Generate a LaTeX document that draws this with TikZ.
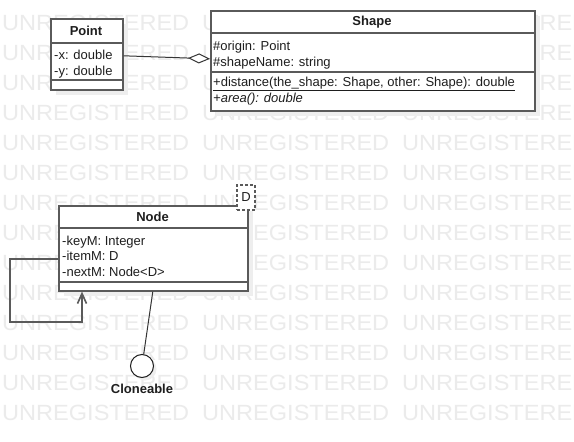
\documentclass[tikz,border=0pt]{standalone}
\usepackage{fontspec}
\setmainfont{Liberation Sans}
\usetikzlibrary{arrows.meta,shadows}
\definecolor{wm}{HTML}{EBEBEB}
\definecolor{bord}{HTML}{5A5A5A}
\definecolor{shad}{HTML}{EEEEEE}
\definecolor{ink}{HTML}{1E1E1E}
\begin{document}
\begin{tikzpicture}[x=1pt,y=-1pt,
  wmtext/.style={anchor=base west,inner sep=0pt,text=wm,font=\fontsize{22}{22}\selectfont,xscale=1.07},
  umlbox/.style={draw=bord,line width=1.6pt,fill=white,anchor=north west,inner sep=0pt,
     drop shadow={shadow xshift=5pt,shadow yshift=-5pt,fill=shad,opacity=1}},
  sep/.style={draw=bord,line width=1.6pt},
  ctitle/.style={font=\fontsize{13}{13}\selectfont\bfseries,text=ink,inner sep=0pt},
  attr/.style={font=\fontsize{13}{13}\selectfont,text=ink,anchor=base west,inner sep=0pt},
  conn/.style={draw=ink!90,line width=1pt},
  iface/.style={circle,draw=ink,line width=1pt,fill=white,minimum size=23pt,inner sep=0pt,
     drop shadow={shadow xshift=3pt,shadow yshift=-3pt,fill=shad,opacity=1}},
  tparambox/.style={draw=bord,dashed,dash pattern=on 3pt off 2pt,line width=1.3pt,fill=white,
     minimum width=18pt,minimum height=25pt,inner sep=0pt,font=\fontsize{13}{13}\selectfont,text=ink}
]
\useasboundingbox (0,0) rectangle (574,442);
\fill[white] (0,0) rectangle (574,442);
% watermark
\foreach \r in {1,...,14}{
  \foreach \c in {0,1,2}{
    \node[wmtext] (wm-\r-\c) at (2+200*\c,30*\r) {UNREGISTERED};
  }
}
% Point class
\node[umlbox,minimum width=72pt,minimum height=71pt] (point) at (50,18) {};
\draw[sep] (50,43) -- (122,43);
\draw[sep] (50,80) -- (122,80);
\node[ctitle] (point-t) at (86,30.5) {Point};
\node[attr] (point-x) at (54,59) {-x: double};
\node[attr] (point-y) at (54,75) {-y: double};
% Shape class
\node[umlbox,minimum width=324pt,minimum height=100pt] (shape) at (210,10) {};
\draw[sep] (210,33) -- (534,33);
\draw[sep] (210,72) -- (534,72);
\node[ctitle] (shape-t) at (372,22) {Shape};
\node[attr] (shape-o) at (213,50) {\#origin: Point};
\node[attr] (shape-n) at (213,66) {\#shapeName: string};
\node[attr] (shape-d) at (213,86) {\underline{+distance(the\_shape: Shape, other: Shape): double}};
\node[attr] (shape-a) at (213,102) {\itshape +area(): double};
% Node class
\node[umlbox,minimum width=189pt,minimum height=85pt] (nodecls) at (58,205) {};
\draw[sep] (58,228) -- (247,228);
\draw[sep] (58,282) -- (247,282);
\node[ctitle] (node-t) at (152.5,216.5) {Node};
\node[attr] (node-k) at (62,245) {-keyM: Integer};
\node[attr] (node-i) at (62,260.5) {-itemM: D};
\node[attr] (node-n) at (62,276) {-nextM: Node<D>};
\node[tparambox] (tparam) at (246,197.5) {D};
% Interface
\node[iface] (clone) at (142,366) {};
\node[ctitle] (clone-l) at (142,389) {Cloneable};
% connectors
\draw[conn,-{Diamond[open,fill=white,length=22pt,width=10pt]}] ([yshift=-1.5pt]point.east) -- ([yshift=2pt]shape.west);
\coordinate (loopc) at (10,322);
\draw[conn,line width=1.6pt,draw=bord,-{Straight Barb[length=10pt,width=9pt]}] ([yshift=-10.5pt]nodecls.west) -| (loopc) -| ([xshift=24pt]nodecls.south west);
\draw[conn] ([xshift=-0.5pt]nodecls.south) -- (clone);
\end{tikzpicture}
\end{document}
